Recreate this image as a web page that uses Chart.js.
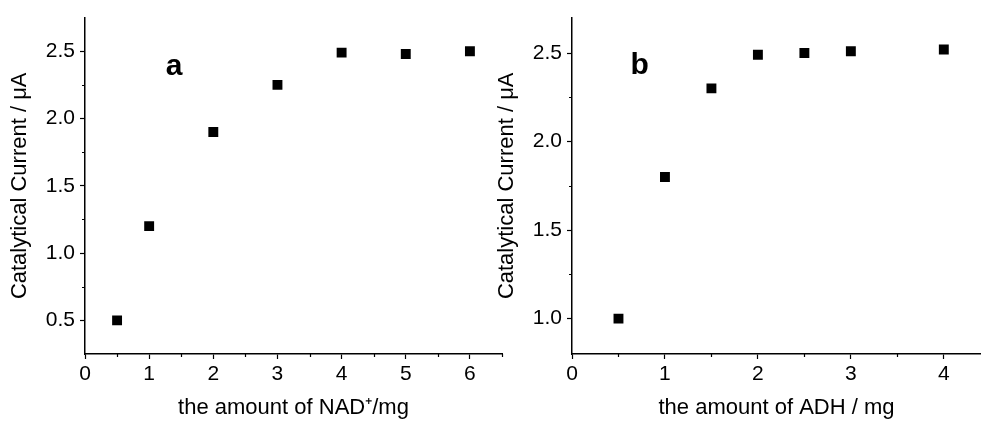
<!DOCTYPE html>
<html>
<head>
<meta charset="utf-8">
<script src="https://cdn.jsdelivr.net/npm/chart.js@4/dist/chart.umd.min.js"></script>
<style>
    body { margin: 0; background: #fff; width: 981px; height: 421px; overflow: hidden; position: relative; }
    canvas { position: absolute; top: 0; }
    #chartA { left: 0; }
    #chartB { left: 490px; }
</style>
</head>
<body>
<canvas id="chartA" width="520" height="421"></canvas>
<canvas id="chartB" width="491" height="421"></canvas>
<script>
// Panel a: NAD+ amount vs catalytical current
const nadAmount = [0.5, 1, 2, 3, 4, 5, 6];
const nadCurrent = [0.5, 1.2, 1.9, 2.25, 2.49, 2.48, 2.5];
const nadXTicks = [0, 1, 2, 3, 4, 5, 6];
const nadXMinor = [0.5, 1.5, 2.5, 3.5, 4.5, 5.5, 6.5];
const nadYTicks = [0.5, 1.0, 1.5, 2.0, 2.5];
const nadYMinor = [0.75, 1.25, 1.75, 2.25];

// Panel b: ADH amount vs catalytical current
const adhAmount = [0.5, 1, 1.5, 2, 2.5, 3, 4];
const adhCurrent = [1.0, 1.8, 2.3, 2.49, 2.5, 2.51, 2.52];
const adhXTicks = [0, 1, 2, 3, 4];
const adhXMinor = [0.5, 1.5, 2.5, 3.5];
const adhYTicks = [1.0, 1.5, 2.0, 2.5];
const adhYMinor = [1.25, 1.75, 2.25];

Chart.defaults.font.family = '"Liberation Sans", Arial, sans-serif';
Chart.defaults.color = '#000';

// short minor ticks, drawn from the scales
const minorTicks = {
    id: 'minorTicks',
    afterDraw(chart, args, opts) {
        const ctx = chart.ctx;
        const area = chart.chartArea;
        ctx.save();
        ctx.strokeStyle = '#000';
        ctx.lineWidth = 1.2;
        ctx.beginPath();
        opts.x.forEach(v => {
            const px = Math.round(chart.scales.x.getPixelForValue(v)) + 0.5;
            ctx.moveTo(px, area.bottom);
            ctx.lineTo(px, area.bottom + 3);
        });
        opts.y.forEach(v => {
            const py = Math.round(chart.scales.y.getPixelForValue(v)) + 0.5;
            ctx.moveTo(area.left - 3, py);
            ctx.lineTo(area.left, py);
        });
        ctx.stroke();
        ctx.restore();
    }
};

// bold panel letter
const panelLabel = {
    id: 'panelLabel',
    afterDraw(chart, args, opts) {
        const ctx = chart.ctx;
        ctx.save();
        ctx.font = 'bold 30px "Liberation Sans", Arial, sans-serif';
        ctx.fillStyle = '#000';
        ctx.textBaseline = 'alphabetic';
        ctx.fillText(opts.text, chart.scales.x.getPixelForValue(opts.x), chart.scales.y.getPixelForValue(opts.y));
        ctx.restore();
    }
};

function makePanel(canvasId, xs, ys, cfg) {
    const ctx = document.getElementById(canvasId).getContext('2d');
    return new Chart(ctx, {
        type: 'scatter',
        data: {
            datasets: [{
                data: xs.map((x, i) => ({ x: x, y: ys[i] })),
                pointStyle: 'rect',
                pointRadius: 7,
                backgroundColor: '#000',
                borderWidth: 0
            }]
        },
        options: {
            responsive: false,
            animation: false,
            devicePixelRatio: 1,
            layout: { autoPadding: false, padding: { top: 15, right: cfg.padRight, bottom: 0, left: 0 } },
            plugins: {
                legend: { display: false },
                tooltip: { enabled: false },
                minorTicks: { x: cfg.xMinor, y: cfg.yMinor },
                panelLabel: cfg.label
            },
            scales: {
                x: {
                    type: 'linear',
                    min: cfg.xMin,
                    max: cfg.xMax,
                    afterBuildTicks: s => { s.ticks = cfg.xTicks.map(v => ({ value: v })); },
                    afterFit: s => { s.height = 67; s.paddingLeft = 0; s.paddingRight = 0; },
                    ticks: {
                        font: { size: 21 },
                        padding: 3,
                        maxRotation: 0,
                        autoSkip: false,
                        callback: v => String(v)
                    },
                    grid: { drawOnChartArea: false, tickLength: 5, color: '#000', tickWidth: 1.2 },
                    border: { color: '#000', width: 1.5 },
                    title: { display: true, text: cfg.xTitle, font: { size: 22 }, padding: { top: 6, bottom: 0 } }
                },
                y: {
                    type: 'linear',
                    min: cfg.yMin,
                    max: cfg.yMax,
                    afterBuildTicks: s => { s.ticks = cfg.yTicks.map(v => ({ value: v })); },
                    afterFit: s => { s.width = cfg.yWidth; },
                    ticks: {
                        font: { size: 21 },
                        padding: 5,
                        callback: v => v.toFixed(1)
                    },
                    grid: { drawOnChartArea: false, tickLength: 5, color: '#000', tickWidth: 1.2 },
                    border: { color: '#000', width: 1.5 },
                    title: { display: true, text: 'Catalytical Current / \u03bcA', font: { size: 22 }, padding: { top: cfg.titlePad, bottom: 0 } }
                }
            }
        },
        plugins: [minorTicks, panelLabel]
    });
}

makePanel('chartA', nadAmount, nadCurrent, {
    xMin: 0, xMax: 6.5, yMin: 0.25, yMax: 2.75,
    xTicks: nadXTicks, xMinor: nadXMinor, yTicks: nadYTicks, yMinor: nadYMinor,
    xTitle: 'the amount of NAD\u207a/mg',
    padRight: 18, yWidth: 85, titlePad: 7,
    label: { text: 'a', x: 1.26, y: 2.325 }
});

makePanel('chartB', adhAmount, adhCurrent, {
    xMin: 0, xMax: 4.4, yMin: 0.8, yMax: 2.7,
    xTicks: adhXTicks, xMinor: adhXMinor, yTicks: adhYTicks, yMinor: adhYMinor,
    xTitle: 'the amount of ADH / mg',
    padRight: 0, yWidth: 82, titlePad: 4,
    label: { text: 'b', x: 0.63, y: 2.38 }
});
</script>
</body>
</html>
